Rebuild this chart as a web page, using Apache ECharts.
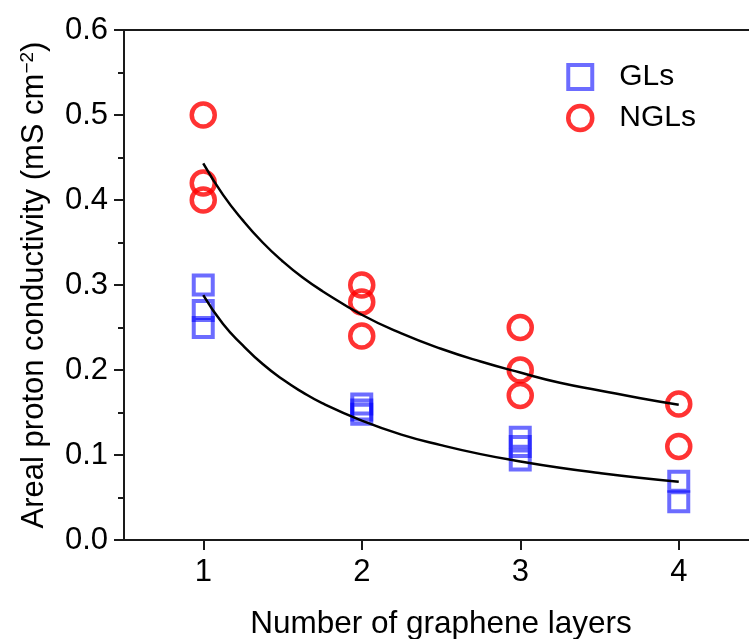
<!DOCTYPE html>
<html><head><meta charset="utf-8">
<script src="https://cdn.jsdelivr.net/npm/echarts@6/dist/echarts.min.js"></script>
<style>html,body{margin:0;padding:0;background:#fff}#c{width:749px;height:639px}</style>
</head><body><div id="c"></div>
<script>
// Scatter data (x = number of graphene layers, y = areal conductivity)
const glX = [1, 1, 1, 2, 2, 2, 3, 3, 3, 4, 4];
const glY = [0.30, 0.27, 0.25, 0.16, 0.153, 0.148, 0.121, 0.11, 0.094, 0.069, 0.045];
const nglX = [1, 1, 1, 2, 2, 2, 3, 3, 3, 4, 4];
const nglY = [0.50, 0.42, 0.40, 0.30, 0.28, 0.24, 0.25, 0.20, 0.17, 0.16, 0.11];
// Fit curves
const fitX = [1, 1.125, 1.25, 1.375, 1.5, 1.625, 1.75, 2, 2.25, 2.5, 2.75, 3, 3.25, 3.5, 3.75, 4];
const fitNGL = [0.443, 0.406, 0.376, 0.350, 0.328, 0.309, 0.293, 0.265, 0.243, 0.225, 0.210, 0.197, 0.185, 0.176, 0.167, 0.159];
const fitGL = [0.288, 0.254, 0.229, 0.207, 0.189, 0.174, 0.161, 0.1405, 0.124, 0.1116, 0.101, 0.0924, 0.085, 0.0788, 0.0733, 0.0686];
const xTicks = [1, 2, 3, 4];
const yTicks = ['0.0', '0.1', '0.2', '0.3', '0.4', '0.5', '0.6'];
const seriesNames = ['GLs', 'NGLs'];

const zip = (xs, ys) => xs.map((x, i) => [x, ys[i]]);
const FONT = 'Liberation Sans, Arial, sans-serif';
const BLUE = 'rgba(0,0,255,0.72)';
const RED = '#ff0000';
const AX = '#1a1a1a';

const chart = echarts.init(document.getElementById('c'), null, {renderer: 'canvas'});
chart.setOption({
  animation: false,
  backgroundColor: '#fff',
  grid: {left: 124, top: 30, right: -9, bottom: 99, containLabel: false, outerBoundsMode: 'none'},
  legend: {
    left: 561, top: 57, orient: 'vertical',
    itemWidth: 24, itemHeight: 24, itemGap: 11,
    textStyle: {fontFamily: FONT, fontSize: 30, color: '#000', padding: [0, 0, 0, 22]},
    data: [
      {name: seriesNames[0], icon: 'rect', itemStyle: {color: 'rgba(255,255,255,0)', borderColor: BLUE, borderWidth: 4}},
      {name: seriesNames[1], icon: 'circle', itemStyle: {color: 'rgba(255,255,255,0)', borderColor: RED, borderWidth: 4.5}}
    ]
  },
  xAxis: [{
    type: 'value', min: 0.5, max: 4.5, interval: 0.5,
    name: 'Number of graphene layers', nameLocation: 'middle', nameGap: 68,
    nameTextStyle: {fontFamily: FONT, fontSize: 31.5, color: '#000'},
    axisLine: {show: true, lineStyle: {color: AX, width: 2}},
    axisTick: {show: true, inside: false, length: 10, lineStyle: {color: AX, width: 2},
      customValues: xTicks},
    axisLabel: {fontFamily: FONT, fontSize: 31, color: '#000', margin: 17,
      customValues: xTicks},
    splitLine: {show: false}
  }, {
    type: 'value', position: 'top', min: 0.5, max: 4.5,
    axisLine: {show: true, lineStyle: {color: AX, width: 2}},
    axisTick: {show: false}, axisLabel: {show: false}, splitLine: {show: false}
  }],
  yAxis: {
    type: 'value', min: 0, max: 0.6, interval: 0.1,
    name: 'Areal proton conductivity (mS cm{sup|−2})', nameLocation: 'middle', nameGap: 73,
    nameTextStyle: {fontFamily: FONT, fontSize: 31, color: '#000',
      rich: {sup: {fontFamily: FONT, fontSize: 19, color: '#000', verticalAlign: 'top', padding: [0, 0, 14, 0]}}},
    axisLine: {show: true, lineStyle: {color: AX, width: 2}},
    axisTick: {show: true, inside: false, length: 10, lineStyle: {color: AX, width: 2}},
    minorTick: {show: true, splitNumber: 2, length: 6, lineStyle: {color: AX, width: 2}},
    axisLabel: {fontFamily: FONT, fontSize: 31, color: '#000', margin: 16,
      formatter: (v) => yTicks[Math.round(v * 10)]},
    splitLine: {show: false}
  },
  series: [
    {name: seriesNames[0], type: 'scatter', data: zip(glX, glY), symbol: 'rect', symbolSize: 19,
      itemStyle: {color: 'rgba(255,255,255,0)', borderColor: BLUE, borderWidth: 4}, z: 2},
    {name: seriesNames[1], type: 'scatter', data: zip(nglX, nglY), symbol: 'circle', symbolSize: 23,
      itemStyle: {color: 'rgba(255,255,255,0)', borderColor: RED, borderWidth: 4.5}, z: 2},
    {name: 'fitNGL', type: 'line', data: zip(fitX, fitNGL), smooth: 0.5, showSymbol: false, symbol: 'none',
      lineStyle: {color: '#000', width: 2.5}, z: 3},
    {name: 'fitGL', type: 'line', data: zip(fitX, fitGL), smooth: 0.5, showSymbol: false, symbol: 'none',
      lineStyle: {color: '#000', width: 2.5}, z: 3}
  ]
});
</script></body></html>
